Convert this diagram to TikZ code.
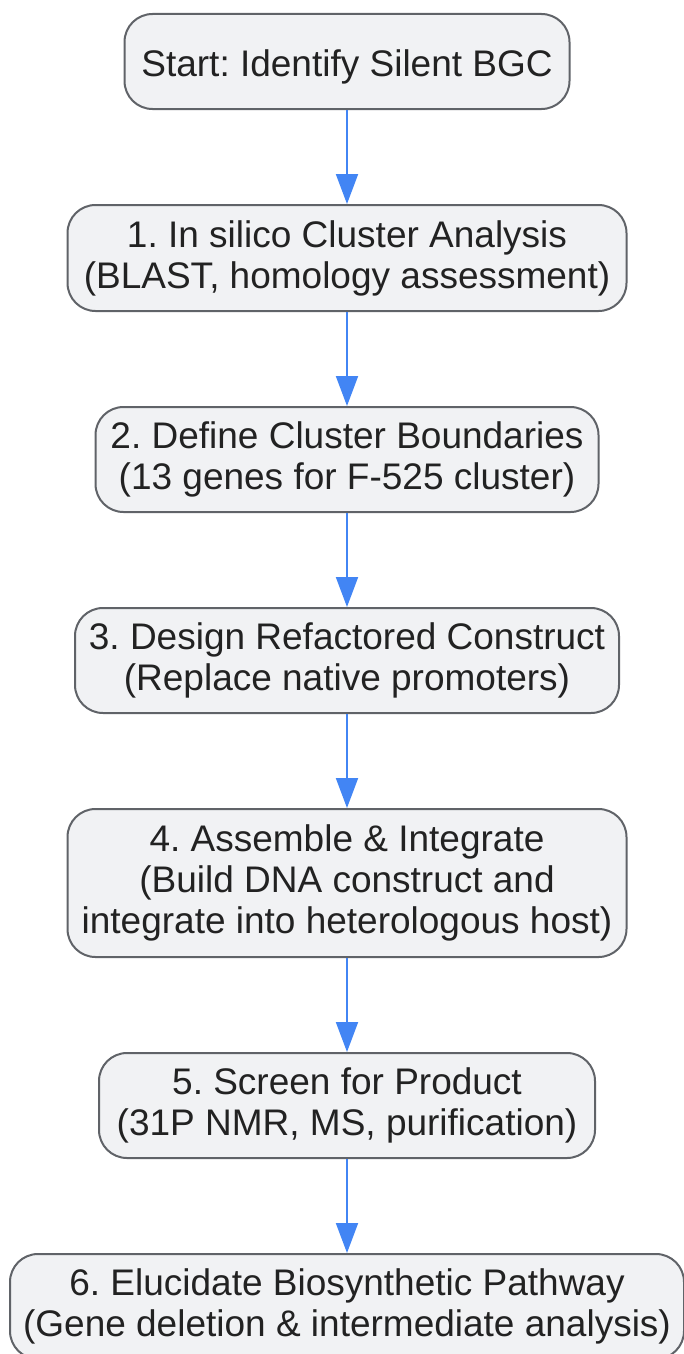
\documentclass[tikz,border=0pt]{standalone}
\usepackage{fontspec}
\setmainfont{Liberation Sans}
\usetikzlibrary{arrows.meta}
\definecolor{boxfill}{HTML}{F1F2F4}
\definecolor{boxline}{HTML}{606368}
\definecolor{flowblue}{HTML}{4285F4}
\definecolor{txt}{HTML}{222222}
\frenchspacing

\begin{document}
\begin{tikzpicture}[x=1pt,y=-1pt,
    stage/.style={rectangle,rounded corners=28pt,draw=boxline,line width=2pt,
                  fill=boxfill,text=txt,align=center,inner sep=0pt,
                  font=\fontsize{37}{41}\selectfont,
                  execute at begin node={\rule{0pt}{37pt}}},
    flow/.style={-{Triangle[length=30pt,width=22pt]},draw=flowblue,
                 fill=flowblue,line width=2pt}]
  \useasboundingbox (0,0) rectangle (684,1354);
  % stages, top to bottom
  \node (start) at (347,61.5) [stage,minimum width=445pt,minimum height=95pt]
        {Start: Identify Silent BGC};
  \node (insilico) at (347,258) [stage,minimum width=559pt,minimum height=106pt]
        {1. In silico Cluster Analysis\\(BLAST, homology assessment)};
  \node (bounds) at (347,459.5) [stage,minimum width=503pt,minimum height=105pt]
        {2. Define Cluster Boundaries\\(13 genes for F-525 cluster)};
  \node (design) at (347,660.5) [stage,minimum width=544pt,minimum height=105pt]
        {3. Design Refactored Construct\\(Replace native promoters)};
  \node (assemble) at (347,883) [stage,minimum width=559pt,minimum height=148pt]
        {4. Assemble \& Integrate\\(Build DNA construct and\\integrate into heterologous host)};
  \node (screen) at (347,1105.5) [stage,minimum width=496pt,minimum height=105pt]
        {5. Screen for Product\\(31P NMR, MS, purification)};
  \node (pathway) at (347,1306.5) [stage,minimum width=674pt,minimum height=105pt]
        {6. Elucidate Biosynthetic Pathway\\(Gene deletion \& intermediate analysis)};
  % connectors
  \draw[flow] (start) -- (insilico);
  \draw[flow] (insilico) -- (bounds);
  \draw[flow] (bounds) -- (design);
  \draw[flow] (design) -- (assemble);
  \draw[flow] (assemble) -- (screen);
  \draw[flow] (screen) -- (pathway);
\end{tikzpicture}
\end{document}
